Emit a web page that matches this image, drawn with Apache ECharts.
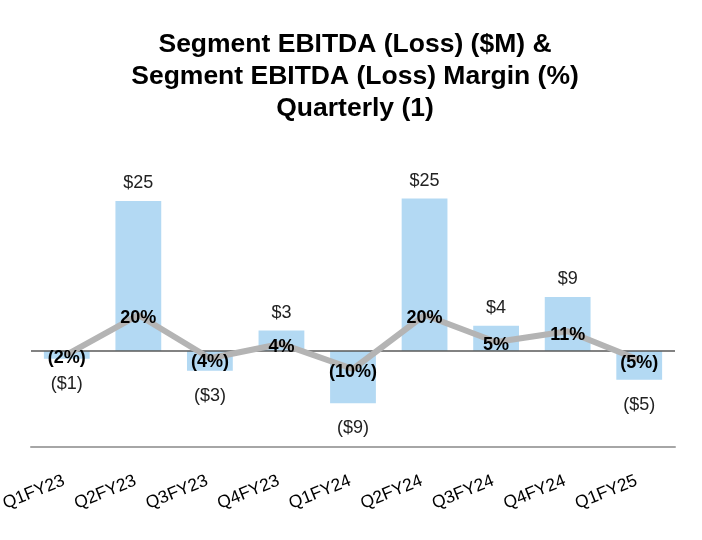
<!DOCTYPE html>
<html>
<head>
<meta charset="utf-8">
<script src="https://cdn.jsdelivr.net/npm/echarts@6/dist/echarts.min.js"></script>
<style>html,body{margin:0;padding:0;background:#fff}#c{width:702px;height:540px}</style>
</head>
<body>
<div id="c"></div>
<script>
const categories = ['Q1FY23','Q2FY23','Q3FY23','Q4FY23','Q1FY24','Q2FY24','Q3FY24','Q4FY24','Q1FY25'];
const ebitda = [-1.3, 25.0, -3.3, 3.4, -8.7, 25.4, 4.2, 9.0, -4.8];
const margin = [-2, 20, -4, 4, -10, 20, 5, 11, -5];
const titleText = 'Segment EBITDA (Loss) ($M) &\nSegment EBITDA (Loss) Margin (%)\nQuarterly (1)';

const font = 'Liberation Sans, Arial, sans-serif';
const chart = echarts.init(document.getElementById('c'), null, {renderer: 'canvas'});
chart.setOption({
  animation: false,
  backgroundColor: '#fff',
  title: {
    text: titleText,
    left: 350, top: 24, textAlign: 'center',
    textStyle: {fontFamily: font, fontWeight: 'bold', fontSize: 26.5, lineHeight: 32, color: '#000'}
  },
  grid: {left: 31, right: 27, top: 171, bottom: 93, containLabel: false, outerBoundsMode: 'none'},
  xAxis: {
    type: 'category', data: categories,
    axisLine: {onZero: false, lineStyle: {color: '#a6a6a6', width: 2}},
    axisTick: {show: false},
    axisLabel: {interval: 0, rotate: 22, margin: 32, padding: [0, 3, 0, 0], fontSize: 17.5, fontFamily: font, color: '#000'}
  },
  yAxis: [
    {type: 'value', min: -16, max: 30, show: false, splitLine: {show: false}},
    {type: 'value', min: -53.333, max: 100, show: false, splitLine: {show: false}}
  ],
  series: [
    {
      type: 'bar', yAxisIndex: 0, barWidth: '64%',
      data: ebitda.map(v => ({
        value: v,
        label: v < 0 ? {position: 'bottom', distance: 16} : {position: 'top', distance: 9}
      })),
      itemStyle: {color: '#b3d9f3'},
      label: {
        show: true, fontSize: 18, fontFamily: font, color: '#222',
        formatter: p => p.value < 0 ? '($' + Math.round(-p.value) + ')' : '$' + Math.round(p.value)
      },
      markLine: {
        silent: true, symbol: 'none', label: {show: false},
        lineStyle: {color: '#595959', width: 1.5, type: 'solid'},
        data: [{yAxis: 0}]
      }
    },
    {
      type: 'line', data: margin, yAxisIndex: 1, symbol: 'circle', symbolSize: 1, showSymbol: true, z: 5,
      itemStyle: {color: '#b4b4b4'},
      lineStyle: {color: '#b4b4b4', width: 6},
      label: {
        show: true, position: [0.5, 4], align: 'center', verticalAlign: 'middle',
        fontSize: 18, fontWeight: 'bold', fontFamily: font, color: '#000',
        formatter: p => p.value < 0 ? '(' + (-p.value) + '%)' : p.value + '%'
      },
      labelLayout: {hideOverlap: false}
    }
  ]
});
</script>
</body>
</html>
